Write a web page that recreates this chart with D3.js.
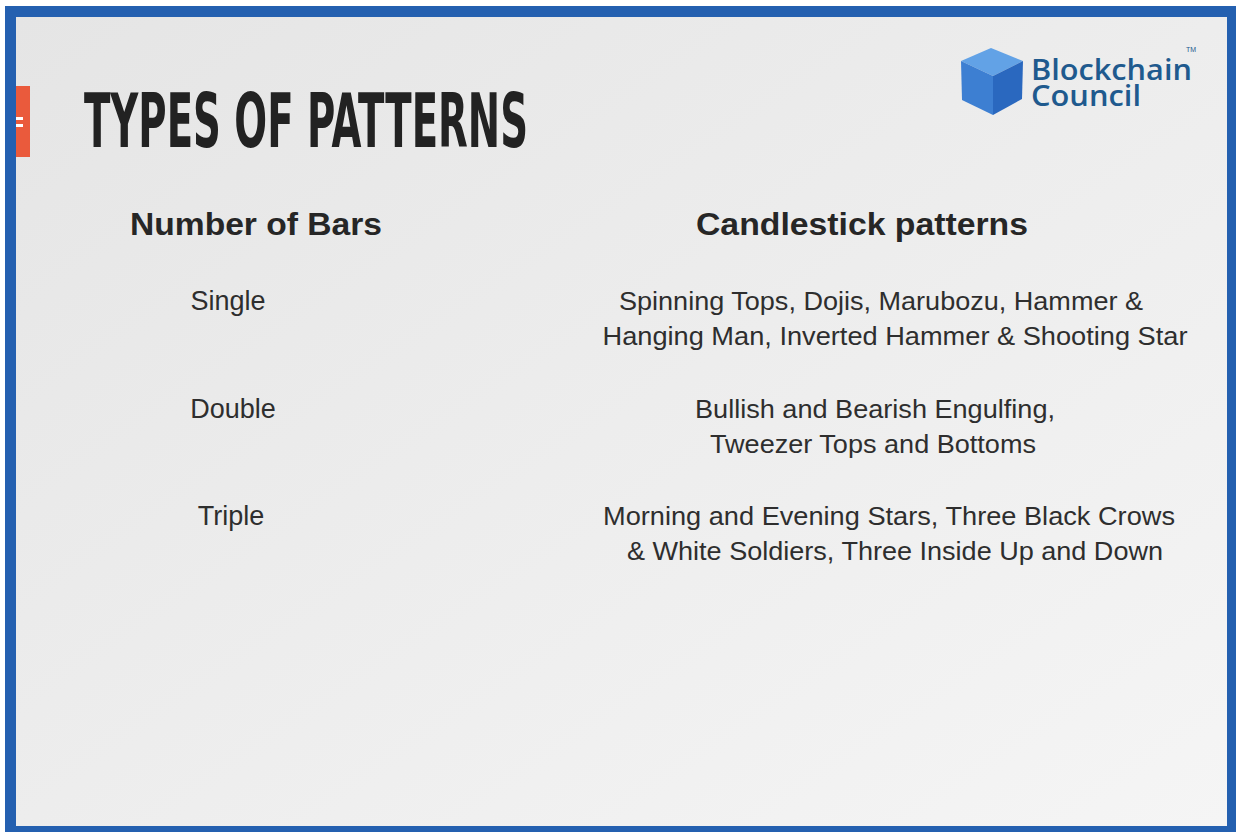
<!DOCTYPE html>
<html>
<head>
<meta charset="utf-8">
<script src="https://cdn.jsdelivr.net/npm/d3@7"></script>
<style>
  html, body { margin: 0; padding: 0; background: #ffffff; }
  svg { display: block; }
</style>
</head>
<body>
<svg id="slide" width="1236" height="832"></svg>
<script>
// ---- content ----
const title = "TYPES OF PATTERNS";
const headers = ["Number of Bars", "Candlestick patterns"];
const categories = ["Single", "Double", "Triple"];
const patternLines = [
  ["Spinning Tops, Dojis, Marubozu, Hammer &", "Hanging Man, Inverted Hammer & Shooting Star"],
  ["Bullish and Bearish Engulfing,", "Tweezer Tops and Bottoms"],
  ["Morning and Evening Stars, Three Black Crows", "& White Soldiers, Three Inside Up and Down"]
];
const logoLines = ["Blockchain", "Council"];

// ---- layout ----
const headerX = [256, 862];
const headerW = [252, 332];
const leftX = [228, 233, 231];
const lineX = [[881, 895], [875, 873], [889, 895]];
const lineW = [[524, 585], [360, 326], [572, 536]];

// ---- drawing ----
const svg = d3.select("#slide");
const defs = svg.append("defs");
const grad = defs.append("linearGradient").attr("id", "bg")
  .attr("x1", "0").attr("y1", "0").attr("x2", "1").attr("y2", "1");
grad.append("stop").attr("offset", "0").attr("stop-color", "#e5e5e5");
grad.append("stop").attr("offset", "1").attr("stop-color", "#f5f5f5");

// blue frame + panel
svg.append("rect").attr("x", 5).attr("y", 6).attr("width", 1231).attr("height", 826).attr("fill", "#2460b0");
svg.append("rect").attr("x", 16).attr("y", 17).attr("width", 1211).attr("height", 809).attr("fill", "url(#bg)");

// orange tab
svg.append("rect").attr("x", 16).attr("y", 86).attr("width", 14).attr("height", 71).attr("fill", "#ea5a3c");
svg.append("rect").attr("x", 16).attr("y", 117).attr("width", 7).attr("height", 3).attr("fill", "#fff");
svg.append("rect").attr("x", 16).attr("y", 124).attr("width", 7).attr("height", 3).attr("fill", "#fff");

// title
svg.append("text").attr("x", 84).attr("y", 147)
  .attr("font-family", "'Liberation Sans Narrow', 'DejaVu Sans Condensed', sans-serif")
  .attr("font-weight", "bold").attr("font-size", 74).attr("fill", "#222")
  .attr("textLength", 444).attr("lengthAdjust", "spacingAndGlyphs")
  .text(title);

// logo cube
const cube = svg.append("g");
cube.append("path").attr("d", "M961,61 L991,48 L1023,61 L993,76 Z").attr("fill", "#62a2e6");
cube.append("path").attr("d", "M961,61 L993,76 L993,115 L962,100 Z").attr("fill", "#3d7fd2");
cube.append("path").attr("d", "M993,76 L1023,61 L1022,99 L993,115 Z").attr("fill", "#2a68bf");
const logo = svg.append("text")
  .attr("font-family", "'Open Sans', 'DejaVu Sans', sans-serif").attr("font-weight", 600)
  .attr("font-size", 29).attr("fill", "#1f5a8e");
logo.selectAll("tspan").data(logoLines).join("tspan")
  .attr("x", 1031).attr("y", (d, i) => 80 + i * 26)
  .attr("textLength", (d, i) => i === 0 ? 161 : 110).attr("lengthAdjust", "spacingAndGlyphs")
  .text(d => d);
svg.append("text").attr("x", 1186).attr("y", 52).attr("font-family", "Liberation Sans, sans-serif")
  .attr("font-size", 7).attr("fill", "#1f5a8e").text("TM");

// headers
svg.selectAll("text.hdr").data(headers).join("text").attr("class", "hdr")
  .attr("x", (d, i) => headerX[i] - headerW[i] / 2).attr("y", 235)
  .attr("textLength", (d, i) => headerW[i]).attr("lengthAdjust", "spacingAndGlyphs")
  .attr("font-family", "'Liberation Sans', Arial, sans-serif").attr("font-weight", "bold")
  .attr("font-size", 31).attr("fill", "#262626").text(d => d);

// rows
const rowY = d3.scalePoint().domain(categories).range([310, 525]);
const bodyFont = "'Liberation Sans', Arial, sans-serif";
svg.selectAll("text.cat").data(categories).join("text").attr("class", "cat")
  .attr("x", (d, i) => leftX[i]).attr("y", d => rowY(d)).attr("text-anchor", "middle")
  .attr("font-family", bodyFont).attr("font-size", 27).attr("fill", "#2e2e2e").text(d => d);

const rows = svg.selectAll("g.row").data(categories).join("g").attr("class", "row");
rows.each(function (cat, i) {
  d3.select(this).selectAll("text").data(patternLines[i]).join("text")
    .attr("x", (d, j) => lineX[i][j] - lineW[i][j] / 2).attr("y", (d, j) => rowY(cat) + j * 35)
    .attr("textLength", (d, j) => lineW[i][j]).attr("lengthAdjust", "spacingAndGlyphs")
    .attr("font-family", bodyFont)
    .attr("font-size", 26).attr("fill", "#2e2e2e").text(d => d);
});
</script>
</body>
</html>
